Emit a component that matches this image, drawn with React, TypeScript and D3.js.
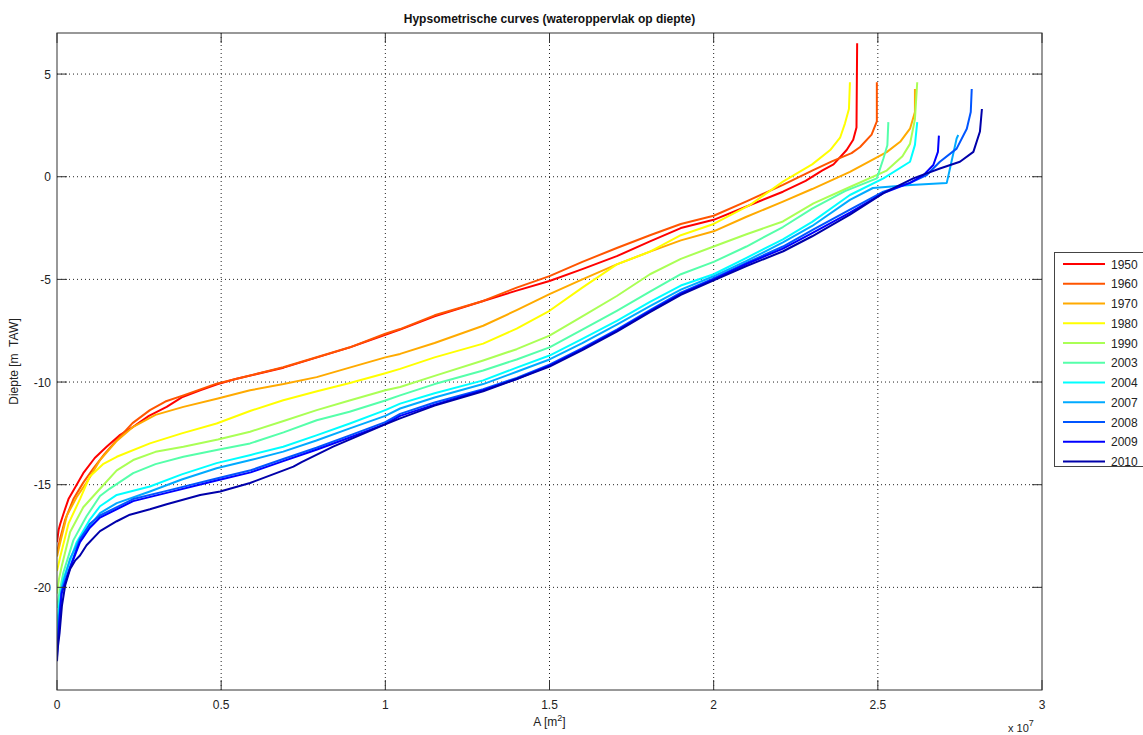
import React from "react";
import * as d3 from "d3";

// ---- data: [area (x 1e7 m2), depth (m TAW)] ----
const years = ["1950", "1960", "1970", "1980", "1990", "2003", "2004", "2007", "2008", "2009", "2010"];
const colors = ["#ff0000", "#ff5500", "#ffaa00", "#ffff00", "#aaff55", "#55ffaa", "#00ffff", "#00aaff", "#0055ff", "#0000ff", "#0000aa"];

const c1950: [number, number][] = [
  [0, -17.8], [0.005, -17.2], [0.01, -16.9], [0.02, -16.4], [0.035, -15.7], [0.06, -15.0], [0.08, -14.44], [0.115, -13.7],
  [0.151, -13.15], [0.19, -12.6], [0.232, -12.18], [0.28, -11.65], [0.334, -11.21], [0.38, -10.75], [0.436, -10.4],
  [0.49, -10.1], [0.547, -9.84], [0.69, -9.3], [0.892, -8.31], [1.0, -7.7], [1.045, -7.45], [1.15, -6.8], [1.298, -6.05],
  [1.4, -5.55], [1.5, -5.08], [1.6, -4.5], [1.705, -3.87], [1.806, -3.15], [1.9, -2.5], [2.0, -2.1], [2.1, -1.45],
  [2.211, -0.73], [2.28, -0.2], [2.33, 0.3], [2.365, 0.6], [2.405, 1.3], [2.425, 1.8], [2.435, 2.4], [2.437, 6.5],
];
const c1960: [number, number][] = [
  [0, -18.3], [0.01, -17.6], [0.025, -16.7], [0.05, -15.7], [0.08, -14.9], [0.111, -14.2], [0.145, -13.5], [0.182, -12.83],
  [0.23, -12.0], [0.283, -11.37], [0.33, -10.95], [0.385, -10.65], [0.486, -10.08], [0.689, -9.28], [0.892, -8.31],
  [1.0, -7.65], [1.045, -7.42], [1.15, -6.75], [1.298, -6.05], [1.4, -5.4], [1.5, -4.84], [1.6, -4.15], [1.705, -3.47],
  [1.806, -2.85], [1.9, -2.3], [2.0, -1.9], [2.1, -1.2], [2.211, -0.4], [2.3, 0.3], [2.36, 0.75], [2.42, 1.15],
  [2.446, 1.45], [2.481, 2.05], [2.497, 2.7], [2.497, 4.6],
];
const c1970: [number, number][] = [
  [0, -18.5], [0.01, -17.8], [0.03, -16.5], [0.06, -15.6], [0.09, -14.9], [0.131, -13.8], [0.18, -12.9], [0.232, -12.18],
  [0.3, -11.6], [0.385, -11.21], [0.49, -10.8], [0.588, -10.4], [0.69, -10.1], [0.791, -9.76], [0.891, -9.3], [1.0, -8.8],
  [1.045, -8.63], [1.15, -8.1], [1.298, -7.26], [1.4, -6.5], [1.5, -5.72], [1.6, -5.0], [1.705, -4.27], [1.806, -3.65],
  [1.9, -3.1], [2.0, -2.66], [2.1, -1.95], [2.211, -1.21], [2.3, -0.6], [2.415, 0.24], [2.527, 1.2], [2.568, 1.7],
  [2.598, 2.34], [2.613, 3.15], [2.613, 4.27],
];
const c1980: [number, number][] = [
  [0, -19.2], [0.01, -18.5], [0.035, -16.9], [0.07, -15.7], [0.1, -14.6], [0.14, -14.0], [0.182, -13.64], [0.283, -12.99],
  [0.38, -12.5], [0.486, -12.02], [0.59, -11.4], [0.689, -10.89], [0.792, -10.45], [0.892, -10.05], [1.0, -9.57],
  [1.045, -9.36], [1.15, -8.8], [1.298, -8.13], [1.4, -7.4], [1.5, -6.53], [1.6, -5.4], [1.705, -4.27], [1.806, -3.65],
  [1.9, -2.85], [2.0, -2.3], [2.111, -1.37], [2.211, -0.24], [2.3, 0.6], [2.355, 1.3], [2.385, 1.9], [2.4, 2.6],
  [2.412, 3.3], [2.415, 4.6],
];
const c1990: [number, number][] = [
  [0, -20.3], [0.006, -19.6], [0.014, -19.0], [0.04, -17.3], [0.08, -16.1], [0.131, -15.2], [0.182, -14.3], [0.232, -13.8],
  [0.3, -13.4], [0.385, -13.15], [0.49, -12.8], [0.588, -12.42], [0.69, -11.9], [0.791, -11.37], [0.891, -10.9],
  [1.0, -10.4], [1.045, -10.24], [1.15, -9.7], [1.298, -8.95], [1.4, -8.4], [1.5, -7.74], [1.6, -6.8], [1.705, -5.81],
  [1.806, -4.75], [1.9, -4.0], [2.0, -3.4], [2.1, -2.8], [2.211, -2.18], [2.304, -1.3], [2.415, -0.5], [2.527, 0.3],
  [2.575, 1.0], [2.598, 1.6], [2.613, 2.8], [2.62, 4.6],
];
const c2003: [number, number][] = [
  [0, -21.0], [0.008, -20.2], [0.019, -19.3], [0.05, -17.7], [0.09, -16.54], [0.131, -15.55], [0.16, -15.2], [0.232, -14.44],
  [0.3, -14.0], [0.385, -13.64], [0.49, -13.3], [0.588, -12.99], [0.69, -12.45], [0.791, -11.86], [0.891, -11.45],
  [1.0, -10.9], [1.045, -10.65], [1.15, -10.1], [1.298, -9.44], [1.4, -8.9], [1.5, -8.31], [1.6, -7.45], [1.705, -6.53],
  [1.806, -5.6], [1.9, -4.75], [2.0, -4.15], [2.1, -3.4], [2.211, -2.45], [2.3, -1.55], [2.4, -0.7], [2.497, -0.08],
  [2.517, 0.89], [2.529, 1.53], [2.532, 2.66],
];
const c2004: [number, number][] = [
  [0, -22.0], [0.005, -21.0], [0.019, -19.6], [0.06, -17.8], [0.1, -16.7], [0.131, -16.05], [0.182, -15.5], [0.283, -15.09],
  [0.38, -14.5], [0.486, -13.95], [0.59, -13.55], [0.689, -13.15], [0.79, -12.6], [0.892, -12.02], [1.0, -11.37],
  [1.045, -11.05], [1.15, -10.55], [1.298, -9.92], [1.4, -9.3], [1.5, -8.71], [1.6, -7.9], [1.705, -7.02], [1.806, -6.1],
  [1.9, -5.3], [2.0, -4.75], [2.1, -3.95], [2.211, -3.05], [2.3, -2.2], [2.415, -0.89], [2.517, -0.08], [2.598, 0.73],
  [2.613, 1.55], [2.62, 2.66],
];
const c2007: [number, number][] = [
  [0, -22.6], [0.005, -21.5], [0.015, -20.0], [0.04, -18.6], [0.07, -17.6], [0.1, -17.0], [0.131, -16.38], [0.182, -15.9],
  [0.283, -15.33], [0.38, -14.75], [0.486, -14.2], [0.59, -13.8], [0.689, -13.39], [0.79, -12.85], [0.892, -12.26],
  [1.0, -11.65], [1.045, -11.29], [1.15, -10.75], [1.298, -10.1], [1.4, -9.5], [1.5, -8.9], [1.6, -8.1], [1.705, -7.2],
  [1.806, -6.3], [1.9, -5.5], [2.0, -4.85], [2.1, -4.1], [2.211, -3.2], [2.3, -2.4], [2.415, -1.13], [2.485, -0.55],
  [2.6, -0.4], [2.71, -0.3], [2.74, 1.86], [2.745, 2.03],
];
const c2008: [number, number][] = [
  [0, -23.2], [0.004, -22.35], [0.009, -21.2], [0.014, -20.2], [0.04, -19.0], [0.07, -17.67], [0.1, -16.9], [0.131, -16.5],
  [0.232, -15.7], [0.334, -15.3], [0.486, -14.7], [0.59, -14.3], [0.689, -13.75], [0.79, -13.2], [0.892, -12.6],
  [1.0, -11.95], [1.045, -11.55], [1.15, -11.0], [1.298, -10.35], [1.4, -9.8], [1.5, -9.15], [1.6, -8.35], [1.705, -7.45],
  [1.806, -6.5], [1.9, -5.65], [2.0, -4.95], [2.1, -4.2], [2.211, -3.4], [2.3, -2.6], [2.415, -1.6], [2.517, -0.73],
  [2.598, -0.3], [2.649, 0.08], [2.689, 0.73], [2.74, 1.37], [2.771, 2.34], [2.783, 3.15], [2.786, 4.27],
];
const c2009: [number, number][] = [
  [0, -23.4], [0.004, -22.4], [0.009, -21.3], [0.014, -20.3], [0.04, -19.05], [0.07, -17.8], [0.1, -17.1], [0.131, -16.6],
  [0.232, -15.8], [0.334, -15.4], [0.486, -14.8], [0.59, -14.4], [0.689, -13.85], [0.79, -13.3], [0.892, -12.7],
  [1.0, -12.05], [1.045, -11.65], [1.15, -11.1], [1.298, -10.4], [1.4, -9.85], [1.5, -9.2], [1.6, -8.4], [1.705, -7.5],
  [1.806, -6.55], [1.9, -5.7], [2.0, -5.0], [2.1, -4.25], [2.211, -3.5], [2.3, -2.75], [2.415, -1.75], [2.517, -0.8],
  [2.598, -0.3], [2.639, 0.08], [2.669, 0.57], [2.683, 1.21], [2.686, 2.0],
];
const c2010: [number, number][] = [
  [0, -23.6], [0.002, -23.0], [0.008, -22.2], [0.015, -20.9], [0.025, -19.9], [0.04, -19.1], [0.055, -18.7], [0.07, -18.45],
  [0.09, -17.95], [0.131, -17.26], [0.182, -16.78], [0.222, -16.46], [0.283, -16.2], [0.334, -15.95], [0.436, -15.5],
  [0.497, -15.33], [0.588, -14.92], [0.69, -14.3], [0.72, -14.12], [0.745, -13.9], [0.841, -13.15], [0.994, -12.1],
  [1.045, -11.77], [1.15, -11.15], [1.298, -10.45], [1.4, -9.85], [1.5, -9.25], [1.6, -8.45], [1.705, -7.55],
  [1.806, -6.6], [1.9, -5.75], [2.0, -5.05], [2.1, -4.35], [2.212, -3.63], [2.3, -2.9], [2.415, -1.85], [2.517, -0.8],
  [2.608, -0.08], [2.689, 0.4], [2.75, 0.73], [2.791, 1.21], [2.811, 2.2], [2.817, 3.3],
];
const curves = [c1950, c1960, c1970, c1980, c1990, c2003, c2004, c2007, c2008, c2009, c2010];

const xTicks = [0, 0.5, 1, 1.5, 2, 2.5, 3];
const yTicks = [5, 0, -5, -10, -15, -20];

const W = 1143, H = 735;
const L = 57, R = 1042, T = 33, B = 690;
const FONT = "'Liberation Sans', Arial, Helvetica, sans-serif";

export default function App() {
  const x = d3.scaleLinear().domain([0, 3]).range([L, R]);
  const y = d3.scaleLinear().domain([-25, 7]).range([B, T]);
  const line = d3.line<[number, number]>().x((d) => x(d[0])).y((d) => y(d[1]));
  const axisColor = "#333";
  const tickLen = 10;
  const legX = 1054.5, legY = 252.5, legW = 90, legH = 214, legStep = 19.75, legFirst = 264;

  return (
    <svg width={W} height={H} style={{ position: "absolute", left: 0, top: 0, background: "#fff" }} fontFamily={FONT}>
      <rect x={0} y={0} width={W} height={H} fill="#fff" />
      <defs>
        <clipPath id="plot">
          <rect x={L} y={T} width={R - L} height={B - T} />
        </clipPath>
      </defs>
      {/* grid */}
      {xTicks.slice(1, -1).map((t) => (
        <line key={"gx" + t} x1={x(t)} x2={x(t)} y1={T} y2={B} stroke="#222" strokeWidth={1} strokeDasharray="1 3" />
      ))}
      {yTicks.map((t) => (
        <line key={"gy" + t} x1={L} x2={R} y1={y(t)} y2={y(t)} stroke="#222" strokeWidth={1} strokeDasharray="1 3" />
      ))}
      {/* curves */}
      <g clipPath="url(#plot)">
        {curves.map((c, i) => (
          <path key={years[i]} d={line(c) || ""} fill="none" stroke={colors[i]} strokeWidth={2} strokeLinejoin="round" />
        ))}
      </g>
      {/* box */}
      <rect x={L} y={T} width={R - L} height={B - T} fill="none" stroke={axisColor} strokeWidth={1} />
      {/* ticks */}
      {xTicks.map((t) => (
        <g key={"tx" + t}>
          <line x1={x(t)} x2={x(t)} y1={B} y2={B - tickLen} stroke={axisColor} />
          <line x1={x(t)} x2={x(t)} y1={T} y2={T + tickLen} stroke={axisColor} />
          <text x={x(t)} y={709} textAnchor="middle" fontSize={12} fill="#222">{t}</text>
        </g>
      ))}
      {yTicks.map((t) => (
        <g key={"ty" + t}>
          <line x1={L} x2={L + tickLen} y1={y(t)} y2={y(t)} stroke={axisColor} />
          <line x1={R} x2={R - tickLen} y1={y(t)} y2={y(t)} stroke={axisColor} />
          <text x={51} y={y(t) + 4.5} textAnchor="end" fontSize={12} fill="#222">{t}</text>
        </g>
      ))}
      {/* labels */}
      <text x={(L + R) / 2} y={23} textAnchor="middle" fontSize={12} fontWeight="bold" fill="#111">
        Hypsometrische curves (wateroppervlak op diepte)
      </text>
      <text x={(L + R) / 2} y={726} textAnchor="middle" fontSize={12} fill="#222">
        A [m<tspan dy={-5} fontSize={9}>2</tspan><tspan dy={5}>]</tspan>
      </text>
      <text x={1008} y={732} fontSize={11} fill="#222">
        x 10<tspan dy={-6} fontSize={9}>7</tspan>
      </text>
      <text transform={`translate(18,${(T + B) / 2}) rotate(-90)`} textAnchor="middle" fontSize={12} fill="#222" xmlSpace="preserve">
        Diepte [m  TAW]
      </text>
      {/* legend */}
      <rect x={legX} y={legY} width={legW} height={legH} fill="#fff" stroke="#444" strokeWidth={1} />
      {years.map((yr, i) => (
        <g key={"lg" + yr}>
          <line x1={1063} x2={1105} y1={legFirst + i * legStep} y2={legFirst + i * legStep} stroke={colors[i]} strokeWidth={2} />
          <text x={1111} y={legFirst + i * legStep + 4.5} fontSize={12} fill="#222">{yr}</text>
        </g>
      ))}
    </svg>
  );
}
